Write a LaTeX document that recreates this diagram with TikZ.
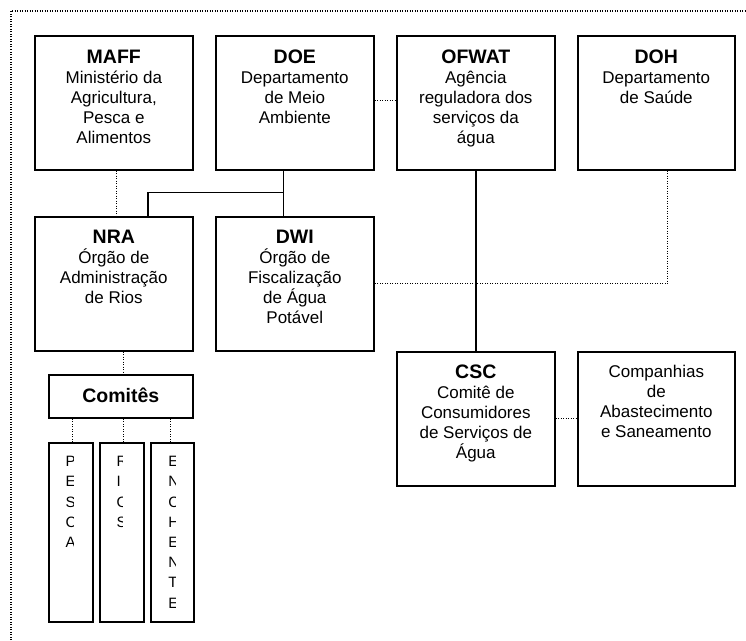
\documentclass[tikz,border=0pt]{standalone}
\usepackage{fontspec}
\setmainfont{Liberation Sans}
\newcommand\ttlfont{\fontsize{19.5}{20}\selectfont\bfseries}
\begin{document}
\begin{tikzpicture}[x=1pt,y=-1pt,
  box/.style={draw, line width=1.6pt, anchor=north west, inner sep=0pt},
  bigbox/.style={box, minimum width=158pt, minimum height=134pt},
  txt/.style={align=center, font=\fontsize{17}{20}\selectfont, inner sep=0pt, anchor=base},
  vl/.style={align=left, font=\fontsize{15}{20.2}\selectfont, inner sep=0pt, anchor=base west},
  con/.style={line width=1.4pt},
  dot/.style={line width=1pt, dash pattern=on 1pt off 1.5pt}]
\useasboundingbox (0,0) rectangle (746,640);
% outer frame
\draw[dot, line width=1.2pt] (11,640) -- (11,11) -- (746,11);
% boxes
\node[bigbox] (maff) at (34,35) {};
\node[bigbox] (doe) at (215,35) {};
\node[bigbox] (ofwat) at (396,35) {};
\node[bigbox, minimum width=157pt] (doh) at (577,35) {};
\node[bigbox] (nra) at (34,216) {};
\node[bigbox] (dwi) at (215,216) {};
\node[bigbox] (csc) at (396,351) {};
\node[bigbox, minimum width=157pt] (cia) at (577,351) {};
\node[box, minimum width=144pt, minimum height=43pt] (com) at (48,374) {};
\node[box, minimum width=44pt, minimum height=179pt] (c1) at (48,442) {};
\node[box, minimum width=44pt, minimum height=179pt] (c2) at (99,442) {};
\node[box, minimum width=43pt, minimum height=179pt] (c3) at (150,442) {};
% texts (base anchor = baseline of the last line)
\node[txt] (maffT) at (maff.north |- 0,143) {{\ttlfont MAFF}\\Ministério da\\Agricultura,\\Pesca e\\Alimentos};
\node[txt] (doeT) at (doe.north |- 0,123) {{\ttlfont DOE}\\Departamento\\de Meio\\Ambiente};
\node[txt] (ofwatT) at (ofwat.north |- 0,143) {{\ttlfont OFWAT}\\Agência\\reguladora dos\\serviços da\\água};
\node[txt] (dohT) at (doh.north |- 0,103) {{\ttlfont DOH}\\Departamento\\de Saúde};
\node[txt] (nraT) at (nra.north |- 0,303) {{\ttlfont NRA}\\Órgão de\\Administração\\de Rios};
\node[txt] (dwiT) at (dwi.north |- 0,323) {{\ttlfont DWI}\\Órgão de\\Fiscalização\\de Água\\Potável};
\node[txt] (cscT) at (csc.north |- 0,458) {{\ttlfont CSC}\\Comitê de\\Consumidores\\de Serviços de\\Água};
\node[txt] (ciaT) at (cia.north |- 0,437) {Companhias\\de\\Abastecimento\\e Saneamento};
\node[txt, font=\ttlfont] (comT) at (com.center |- 0,402) {Comitês};
% vertical clipped letters
\begin{scope}
\clip (48,442) rectangle (73,621);
\node[vl] (c1T) at (65.5,547.5) {P\\E\\S\\C\\A};
\end{scope}
\begin{scope}
\clip (99,442) rectangle (122,621);
\node[vl] (c2T) at (116.5,527.3) {R\\I\\O\\S};
\end{scope}
\begin{scope}
\clip (150,442) rectangle (175.7,621);
\node[vl] (c3T) at (168.2,608.1) {E\\N\\C\\H\\E\\N\\T\\E};
\end{scope}
% solid connectors
\draw[con] ([xshift=-11.5pt]doe.south) -- ([xshift=-11.5pt]dwi.north);
\draw[con] ([xshift=-11.5pt,yshift=-22pt]doe.south) -| ([xshift=34pt]nra.north);
\draw[con] (ofwat.south) -- (csc.north);
% dotted connectors
\draw[dot] ([xshift=3pt]maff.south) -- ([xshift=3pt]nra.north);
\draw[dot] ([yshift=2pt]doe.east) -- ([yshift=2pt]ofwat.west);
\draw[dot] ([xshift=11pt]doh.south) |- (dwi.east);
\draw[dot] (csc.east) -- (cia.west);
\draw[dot] ([xshift=10pt]nra.south) -- ([xshift=3pt]com.north);
\draw[dot] ([xshift=2pt]c1.north) -- ([xshift=2pt]c1.north |- com.south);
\draw[dot] ([xshift=2pt]c2.north) -- ([xshift=2pt]c2.north |- com.south);
\draw[dot] ([xshift=-1.5pt]c3.north) -- ([xshift=-1.5pt]c3.north |- com.south);
\end{tikzpicture}
\end{document}
